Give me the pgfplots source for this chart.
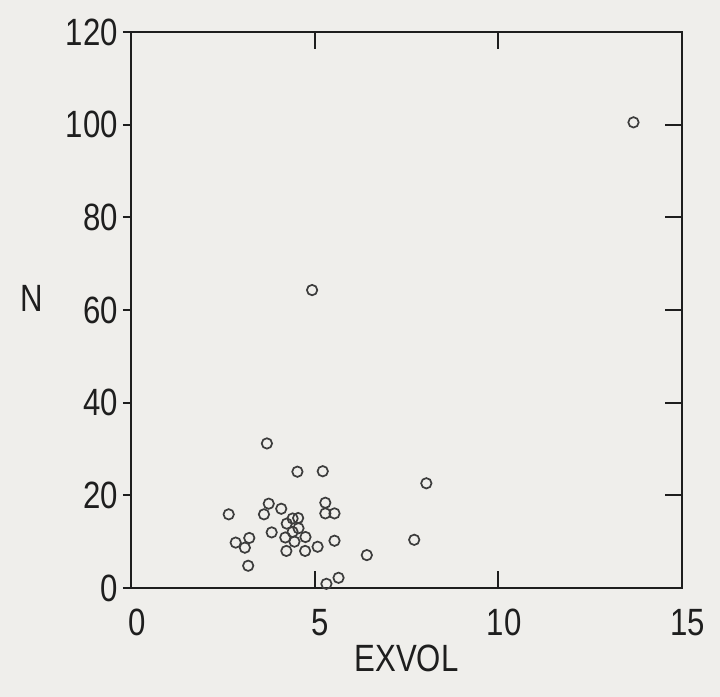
\documentclass[border=0pt]{standalone}
\usepackage{pgfplots}
\pgfplotsset{compat=1.18}
\usepackage{fontspec}
\setmainfont{Liberation Sans}
\usepackage{graphicx}
\definecolor{bg}{RGB}{239,238,235}
\definecolor{ink}{RGB}{30,30,30}
\definecolor{mk}{RGB}{60,60,60}
\newcommand{\lbl}[1]{\scalebox{0.82}[1]{#1}}
\begin{document}
\begin{tikzpicture}
\fill[bg] (-65.5pt,-54.5pt) rectangle (294.5pt,294pt);
\begin{axis}[
  at={(0,0)}, anchor=south west,
  scale only axis, width=275.5pt, height=278pt,
  xmin=0, xmax=15, ymin=0, ymax=120,
  xtick={0,5,10,15}, ytick={0,20,...,120},
  tick align=inside, major tick length=8.5pt,
  ytick pos=right, yticklabel pos=left,
  axis line style={ink, line width=1pt},
  every tick/.style={ink, line width=1pt},
  /pgf/number format/assume math mode=true,
  ticklabel style={font=\fontsize{19}{19}\selectfont, text=ink},
  xticklabel={\lbl{\pgfmathprintnumber{\tick}}},
  yticklabel={\lbl{\pgfmathprintnumber{\tick}}},
  yticklabel style={xshift=-3pt},
  xticklabel style={yshift=-7pt, xshift=3pt},
  xlabel={\lbl{EXVOL}}, ylabel={\lbl{N}},
  label style={font=\fontsize{19}{19}\selectfont, text=ink},
  xlabel style={at={(axis description cs:0.5,-0.126)}, anchor=center},
  ylabel style={at={(axis description cs:-0.18,0.52)}, anchor=center, rotate=-90},
  clip=false,
]
\addplot[only marks, mark=o, mark size=2.6pt, mark options={draw=mk, line width=0.85pt}] coordinates {
(3.70,31.2) (4.53,25.1) (5.22,25.2) (8.04,22.6) (2.66,15.9) (3.75,18.2)
(3.62,15.9) (4.09,17.1) (5.29,18.4) (5.29,16.1) (5.54,16.1) (4.40,15.0)
(4.55,15.1) (4.24,13.9) (4.56,12.9) (3.83,12.0) (4.40,12.1) (4.20,10.9)
(4.75,11.0) (4.45,10.0) (3.22,10.8) (2.85,9.8) (3.10,8.7) (5.54,10.2)
(5.08,8.9) (4.74,8.0) (4.23,8.0) (7.71,10.4) (6.42,7.1) (3.19,4.8)
(5.65,2.2) (5.32,0.9) (4.93,64.3) (13.68,100.5)
};
\end{axis}
\begin{axis}[
  at={(0,0)}, anchor=south west,
  scale only axis, width=275.5pt, height=278pt,
  xmin=0, xmax=15, ymin=0, ymax=120,
  axis line style={draw=none},
  xtick=\empty, ytick={0,20,...,120}, yticklabels={},
  ytick pos=left, tick align=outside, major tick length=4pt,
  every tick/.style={ink, line width=1pt},
]
\end{axis}
\end{tikzpicture}
\end{document}
